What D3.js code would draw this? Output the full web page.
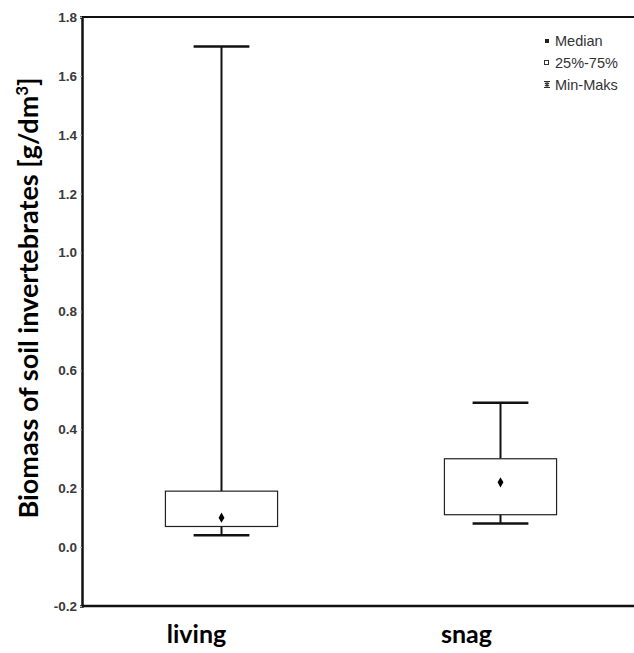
<!DOCTYPE html>
<html><head><meta charset="utf-8">
<script src="https://cdn.jsdelivr.net/npm/d3@7"></script>
<style>body{margin:0;background:#fff}svg{display:block}</style>
</head><body><div id="c"></div>
<script>
const categories = ["living", "snag"];
const minVals = [0.04, 0.08];
const q1Vals = [0.07, 0.11];
const medianVals = [0.10, 0.22];
const q3Vals = [0.19, 0.30];
const maxVals = [1.70, 0.49];
const yTicks = [-0.2, 0.0, 0.2, 0.4, 0.6, 0.8, 1.0, 1.2, 1.4, 1.6, 1.8];
const legendLabels = ["Median", "25%-75%", "Min-Maks"];

const W = 634, H = 653;
const svg = d3.select("#c").append("svg").attr("width", W).attr("height", H);
const y = d3.scaleLinear().domain([-0.2, 1.8]).range([606, 17]);
const x = d3.scaleBand().domain(categories).range([82, 640]);
const bw = x.bandwidth();

// top line and bottom axis line
svg.append("line").attr("x1", 82).attr("x2", W).attr("y1", y(1.8)).attr("y2", y(1.8)).attr("stroke", "#111").attr("stroke-width", 2);
svg.append("line").attr("x1", 82).attr("x2", W).attr("y1", y(-0.2)).attr("y2", y(-0.2)).attr("stroke", "#111").attr("stroke-width", 2.5);

// y axis
const fmt = d3.format(".1f");
const yAxis = svg.append("g").attr("transform", "translate(82,0)")
  .call(d3.axisLeft(y).tickValues(yTicks).tickFormat(d => fmt(d).replace("\u2212", "-")).tickSize(2).tickPadding(3));
yAxis.select(".domain").attr("stroke", "#111").attr("stroke-width", 2.5);
yAxis.selectAll(".tick line").attr("stroke", "#bbb");
yAxis.selectAll("text").attr("font-family", "Liberation Sans, Arial, sans-serif").attr("font-size", 13.5).attr("font-weight", "bold").attr("fill", "#3a3a3a");

// boxes
const g = svg.append("g");
categories.forEach((c, i) => {
  const cx = x(c) + bw / 2;
  const boxW = bw * 0.402, capW = bw * 0.2;
  g.append("line").attr("x1", cx).attr("x2", cx).attr("y1", y(maxVals[i])).attr("y2", y(q3Vals[i])).attr("stroke", "#111").attr("stroke-width", 2);
  g.append("line").attr("x1", cx).attr("x2", cx).attr("y1", y(q1Vals[i])).attr("y2", y(minVals[i])).attr("stroke", "#111").attr("stroke-width", 2);
  g.append("line").attr("x1", cx - capW / 2).attr("x2", cx + capW / 2).attr("y1", y(maxVals[i])).attr("y2", y(maxVals[i])).attr("stroke", "#111").attr("stroke-width", 2.5);
  g.append("line").attr("x1", cx - capW / 2).attr("x2", cx + capW / 2).attr("y1", y(minVals[i])).attr("y2", y(minVals[i])).attr("stroke", "#111").attr("stroke-width", 2.5);
  g.append("rect").attr("x", cx - boxW / 2).attr("y", y(q3Vals[i])).attr("width", boxW).attr("height", y(q1Vals[i]) - y(q3Vals[i]))
    .attr("fill", "#fff").attr("stroke", "#222").attr("stroke-width", 1.2);
  g.append("path").attr("d", d3.symbol(d3.symbolDiamond, 30)()).attr("transform", `translate(${cx},${y(medianVals[i])})`).attr("fill", "#000");
  svg.append("text").attr("x", cx - (i === 0 ? 25 : 34)).attr("y", 643).attr("text-anchor", "middle")
    .attr("font-family", "Lato, Open Sans, sans-serif").attr("font-weight", "bold").attr("font-size", 25).attr("fill", "#000").text(c);
});

// y title
const t = svg.append("text").attr("transform", "translate(38,298) rotate(-90)").attr("text-anchor", "middle")
  .attr("font-family", "Lato, Open Sans, sans-serif").attr("font-weight", "bold").attr("font-size", 27).attr("fill", "#000");
t.append("tspan").text("Biomass of soil invertebrates [g/dm");
t.append("tspan").attr("baseline-shift", "super").attr("font-size", 17).text("3");
t.append("tspan").text("]");

// legend
const lg = svg.append("g").attr("font-family", "Liberation Sans, Arial, sans-serif").attr("font-size", 14.5).attr("fill", "#333");
legendLabels.forEach((l, i) => {
  const ly = 41 + i * 22;
  lg.append("text").attr("x", 555).attr("y", ly + 5).text(l);
});
lg.append("rect").attr("x", 545).attr("y", 39).attr("width", 4).attr("height", 4).attr("fill", "#222");
lg.append("rect").attr("x", 544.5).attr("y", 60.5).attr("width", 4).attr("height", 4).attr("fill", "#fff").attr("stroke", "#333").attr("stroke-width", 1);
lg.append("path").attr("d", "M544,81.5 H550 M544,87.5 H550 M547,81.5 V87.5 M545,83 L549,86 M549,83 L545,86").attr("stroke", "#333").attr("stroke-width", 1.2).attr("fill", "none");
</script></body></html>
